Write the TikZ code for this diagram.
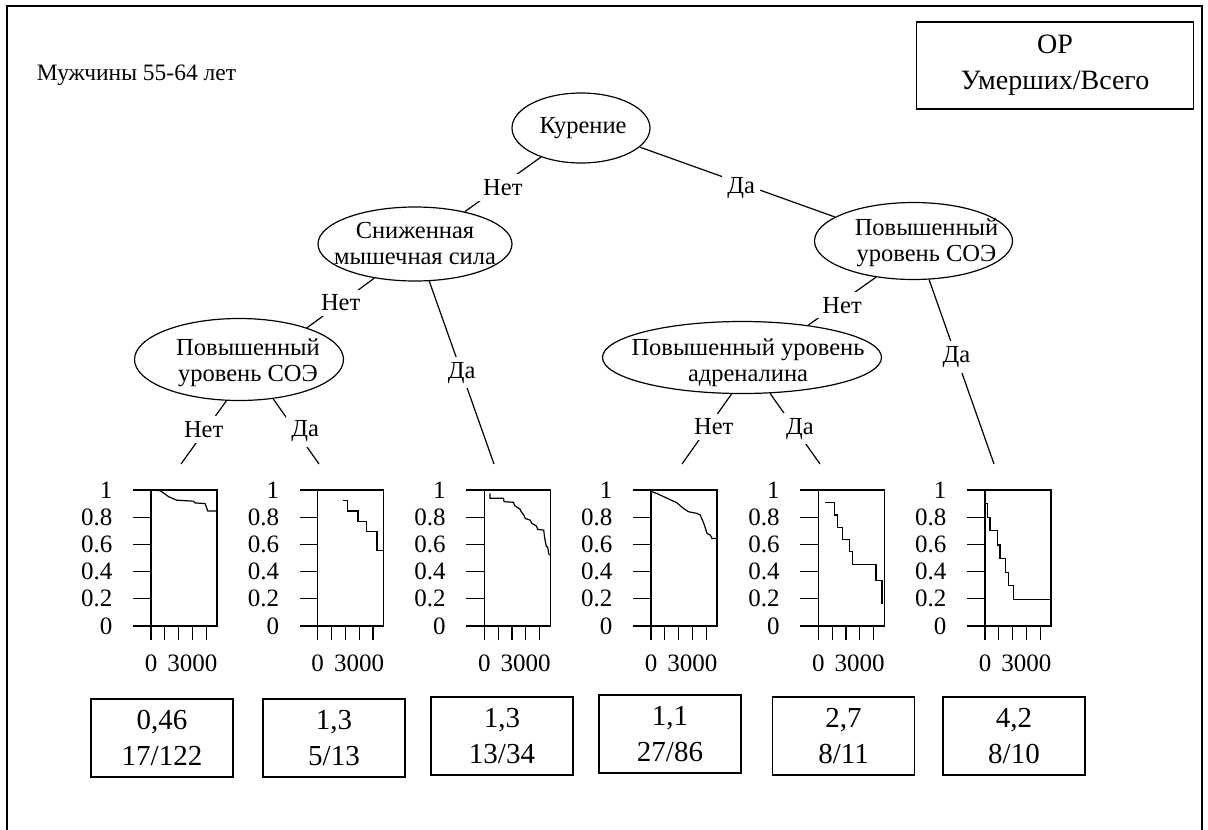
\documentclass[tikz,border=0pt]{standalone}
\usepackage{fontspec}
\setmainfont{Liberation Serif}
\usetikzlibrary{shapes.geometric}

\begin{document}
\begin{tikzpicture}[x=1pt,y=-1pt,line width=1.2pt,
  ell/.style={draw,ellipse,inner sep=0pt},
  txt/.style={align=center,font=\fontsize{24.5}{26}\selectfont},
  lbl/.style={fill=white,inner sep=5pt,font=\fontsize{24.5}{26}\selectfont},
  resbox/.style={draw,minimum width=142,minimum height=78,align=center,font=\fontsize{29}{36}\selectfont},
  tick/.style={inner sep=0pt,font=\fontsize{25}{26}\selectfont}]
  \useasboundingbox (0,0) rectangle (1208,830);
  \draw (7,830) -- (7,6) -- (1202,6) -- (1202,830);
  \node[anchor=west,font=\fontsize{23.5}{26}\selectfont] (title) at (33,75) {Мужчины 55-64 лет};
  \node[resbox,minimum width=277,minimum height=87,font=\fontsize{28}{36}\selectfont] (key) at (1055,65.5) {ОР\\Умерших/Всего};

  \node[ell,minimum width=138,minimum height=70] (kur) at (581,128) {};
  \node[txt,xshift=2] at (kur) {Курение};
  \node[ell,minimum width=194,minimum height=74] (snz) at (415,244) {};
  \node[txt] at (snz) {Сниженная\\мышечная сила};
  \node[ell,minimum width=198,minimum height=77] (soe) at (913.5,241) {};
  \node[txt,xshift=13,yshift=-2] at (soe) {Повышенный\\уровень СОЭ};
  \node[ell,minimum width=209,minimum height=82] (soeL) at (239,359.5) {};
  \node[txt,xshift=9,yshift=-3] at (soeL) {Повышенный\\уровень СОЭ};
  \node[ell,minimum width=279,minimum height=72] (adr) at (742,357.5) {};
  \node[txt,xshift=6,yshift=-5] at (adr) {Повышенный уровень\\адреналина};

  \coordinate (e1) at (181,464); \coordinate (e2) at (319,464);
  \coordinate (e3) at (494,464); \coordinate (e4) at (682,464);
  \coordinate (e5) at (820,464); \coordinate (e6) at (994,464);
  \draw (kur.216) -- node[lbl,yshift=-3]{Нет} (snz.33);
  \draw (kur.342) -- node[lbl,pos=.52,yshift=-5]{Да} (soe.163);
  \draw (snz.220) -- node[lbl]{Нет} (soeL.25);
  \draw (snz.291) -- node[lbl]{Да} (e3);
  \draw (soeL.253) -- node[lbl,yshift=3]{Нет} (e1);
  \draw (soeL.311) -- node[lbl,xshift=9]{Да} (e2);
  \draw (soe.224) -- node[lbl,yshift=-4]{Нет} (adr.26);
  \draw (soe.292) -- node[lbl,pos=.42]{Да} (e6);
  \draw (adr.254) -- node[lbl,xshift=7,yshift=2]{Нет} (e4);
  \draw (adr.308) -- node[lbl,xshift=5]{Да} (e5);

  \foreach \L in {151,317.7,484.3,651,818.3,985}{
    \begin{scope}[shift={(\L,626)}]
      \draw (0,0) rectangle (66,-136);
      \foreach \v/\t in {0/0,1/0.2,2/0.4,3/0.6,4/0.8,5/1}{
        \draw (-18,-27.2*\v) -- (0,-27.2*\v);
        \node[tick,anchor=east] at (-38,-27.2*\v) {\t};
      }
      \foreach \k in {0,...,4} \draw (13.8*\k,0) -- (13.8*\k,14);
      \node[tick] at (0,37) {0};
      \node[tick] at (41.4,37) {3000};
    \end{scope}
  }

  \draw[shift={(151,626)},xscale=66,yscale=-136] (0,1) -- (0.14,0.995) -- (0.27,0.95) -- (0.39,0.925)
    -- (0.64,0.918) -- (0.67,0.905) -- (0.82,0.9) -- (0.86,0.845) -- (1,0.845);
  \draw[shift={(317.7,626)},xscale=66,yscale=-136] (0.39,0.921) -- (0.457,0.921) -- (0.457,0.845)
    -- (0.61,0.845) -- (0.61,0.771) -- (0.736,0.771) -- (0.736,0.693) -- (0.898,0.693) -- (0.898,0.553) -- (1,0.553);
  \draw[shift={(484.3,626)},xscale=66,yscale=-136] (0.086,0.975) -- (0.086,0.94) -- (0.29,0.94) -- (0.3,0.914)
    -- (0.44,0.91) -- (0.46,0.885) -- (0.54,0.86) -- (0.56,0.84) -- (0.6,0.815) -- (0.62,0.79) -- (0.69,0.78)
    -- (0.72,0.755) -- (0.79,0.735) -- (0.81,0.71) -- (0.9,0.705) -- (0.915,0.645) -- (0.94,0.585) -- (0.96,0.58)
    -- (0.975,0.535) -- (0.985,0.52);
  \draw[shift={(651,626)},xscale=66,yscale=-136] (0,0.99) -- (0.086,0.975) -- (0.24,0.94) -- (0.39,0.907)
    -- (0.49,0.865) -- (0.57,0.84) -- (0.695,0.828) -- (0.746,0.816) -- (0.8,0.754) -- (0.85,0.68) -- (0.9,0.668)
    -- (0.924,0.644) -- (1,0.644);
  \draw[shift={(818.3,626)},xscale=66,yscale=-136] (0.1,0.909) -- (0.24,0.909) -- (0.24,0.816) -- (0.29,0.816)
    -- (0.29,0.725) -- (0.37,0.725) -- (0.37,0.636) -- (0.47,0.636) -- (0.47,0.545) -- (0.52,0.545) -- (0.52,0.452)
    -- (0.873,0.452) -- (0.873,0.337) -- (0.964,0.337) -- (0.964,0.165);
  \draw[shift={(985,626)},xscale=66,yscale=-136] (0.015,0.9) -- (0.04,0.9) -- (0.04,0.8) -- (0.076,0.8)
    -- (0.076,0.7) -- (0.188,0.7) -- (0.188,0.595) -- (0.228,0.595) -- (0.228,0.496) -- (0.305,0.496)
    -- (0.305,0.393) -- (0.355,0.393) -- (0.355,0.295) -- (0.43,0.295) -- (0.43,0.197) -- (1,0.197);

  \node[resbox] (r1) at (162,738) {0,46\\17/122};
  \node[resbox] (r2) at (334,738) {1,3\\5/13};
  \node[resbox] (r3) at (502,736) {1,3\\13/34};
  \node[resbox] (r4) at (670,734) {1,1\\27/86};
  \node[resbox] (r5) at (843.6,736) {2,7\\8/11};
  \node[resbox] (r6) at (1014,736) {4,2\\8/10};
\end{tikzpicture}
\end{document}
